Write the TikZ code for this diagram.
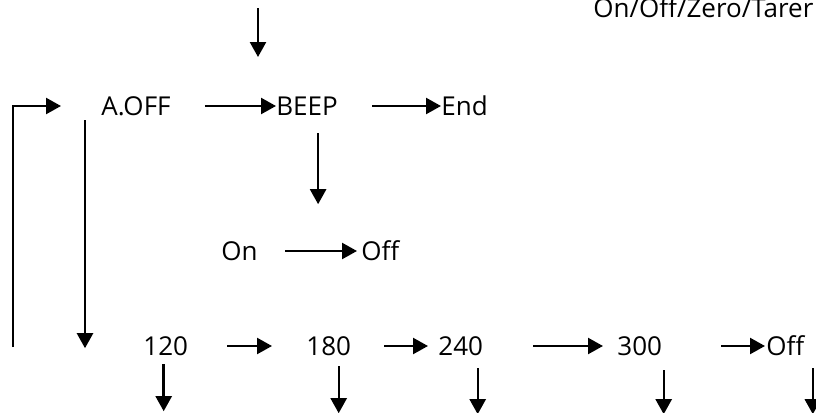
\documentclass[tikz,border=0pt]{standalone}
\usepackage{fontspec}
\setmainfont{Open Sans}
\usetikzlibrary{arrows.meta}
\tikzstyle{lbl} = [anchor=west, inner sep=0pt, text height=9.3pt, text depth=0pt]
\tikzstyle{diredge} = [line width=1.2pt, -{Triangle[width=8pt,length=7.5pt]}]

\begin{document}
\begin{tikzpicture}[x=0.5pt, y=-0.5pt, every node/.style={font=\fontsize{13}{15}\selectfont}]
    \useasboundingbox (0,0) rectangle (816,413);
    % menu texts
    \node[lbl] (title) at (593,8) {On/Off/Zero/Tarer};
    \node[lbl] (aoff) at (101,106) {A.OFF};
    \node[lbl] (beep) at (276,106) {BEEP};
    \node[lbl] (stop) at (441,106) {End};
    \node[lbl] (beepon) at (221,251) {On};
    \node[lbl] (beepoff) at (361,251) {Off};
    \node[lbl] (t120) at (143,346) {120};
    \node[lbl] (t180) at (306,346) {180};
    \node[lbl] (t240) at (438,346) {240};
    \node[lbl] (t300) at (617,346) {300};
    \node[lbl] (toff) at (766,346) {Off};
    \coordinate (entry) at (258,8);
    \coordinate (loopstart) at (13,347);
    % arrows
    \draw[diredge] (entry) -- ++(0,49);
    \draw[diredge, shorten >=20pt] (loopstart) |- (aoff.west);
    \draw[diredge, shorten <=17pt] (aoff) -- (beep);
    \draw[diredge, shorten <=17pt] (beep) -- (stop);
    \draw[diredge] ([shift={(-16,4.5)}]aoff.south west) -- ++(0,228);
    \draw[diredge] ([shift={(11,17.5)}]beep.south) -- ++(0,71);
    \draw[diredge, shorten <=13.5pt, shorten >=2pt] (beepon) -- (beepoff);
    \draw[diredge, shorten <=19.5pt, shorten >=17pt] (t120) -- (t180);
    \draw[diredge, shorten <=16.5pt, shorten >=5pt] (t180) -- (t240);
    \draw[diredge, shorten <=25pt, shorten >=7pt] (t240) -- (t300);
    \draw[diredge, shorten <=29.5pt, shorten >=0.5pt] (t300) -- (toff);
    \foreach \n/\dx/\gap/\len in {t120/-2/8.5/47, t180/10/10.5/47, t240/17/12.5/46,
        t300/24/14.5/44, toff/27.5/12.5/46}
        \draw[diredge] ([shift={(\dx,\gap)}]\n.south) -- ++(0,\len);
\end{tikzpicture}
\end{document}
